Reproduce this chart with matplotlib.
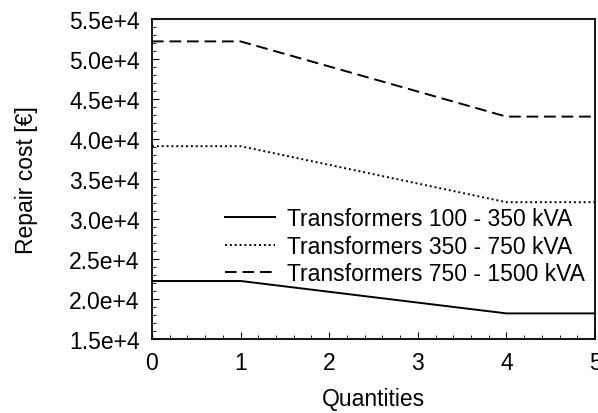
import numpy as np
import matplotlib.pyplot as plt
from matplotlib.ticker import MultipleLocator

plt.rcParams['font.family'] = ['Liberation Sans', 'DejaVu Sans']
plt.rcParams['font.size'] = 16.5

quantities = [0, 1, 4, 5]
cost_100_350 = [22250, 22250, 18200, 18200]
cost_350_750 = [39100, 39100, 32100, 32100]
cost_750_1500 = [52200, 52200, 42800, 42800]
labels = ["Transformers 100 - 350 kVA",
          "Transformers 350 - 750 kVA",
          "Transformers 750 - 1500 kVA"]

fig = plt.figure(figsize=(5.98, 4.14), dpi=100)
ax = fig.add_axes([152/598, 1 - 340/414, 443/598, 320/414])

ax.plot(quantities, cost_100_350, 'k-', lw=1.4, label=labels[0])
ax.plot(quantities, cost_350_750, 'k', ls=(0, (1, 1.5)), lw=1.4, label=labels[1])
ax.plot(quantities, cost_750_1500, 'k', ls=(0, (6, 3)), lw=1.4, label=labels[2])

ax.set_xlim(0, 5)
ax.set_ylim(15000, 55000)
ax.xaxis.set_major_locator(MultipleLocator(1))
ax.xaxis.set_minor_locator(MultipleLocator(0.2))
ax.yaxis.set_major_locator(MultipleLocator(5000))
ax.yaxis.set_minor_locator(MultipleLocator(1000))

def sci(v, pos):
    return "{:.1f}e+4".format(v / 1e4)

ax.yaxis.set_major_formatter(plt.FuncFormatter(sci))
ax.tick_params(which='both', direction='in', top=False, right=False)
ax.tick_params(which='major', length=5, pad=9)
ax.tick_params(which='minor', length=3)
for s in ax.spines.values():
    s.set_linewidth(1.3)

ax.set_xlabel("Quantities", labelpad=9)
ax.set_ylabel("Repair cost [€]", labelpad=22)
ax.legend(loc='lower right', bbox_to_anchor=(1.018, 0.11), frameon=False,
          handlelength=2.2, handletextpad=0.5, labelspacing=0.2,
          borderpad=0.3)

fig.savefig("out.png", dpi=100)
